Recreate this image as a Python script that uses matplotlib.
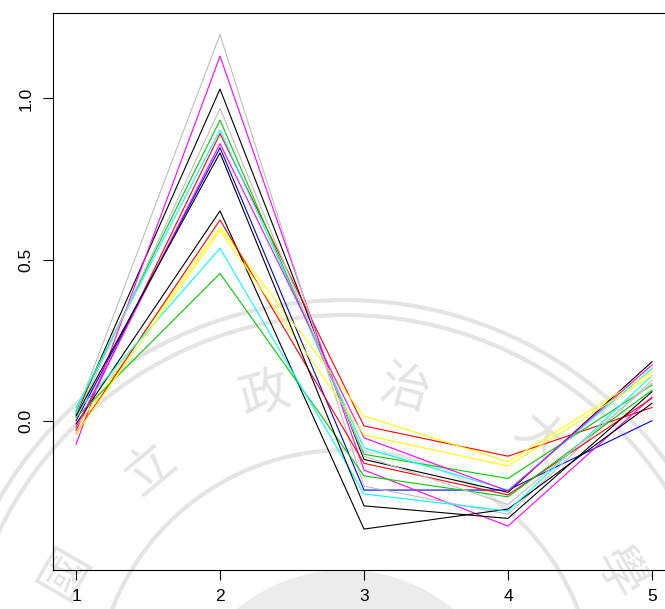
import matplotlib
matplotlib.use("Agg")
import matplotlib.pyplot as plt
from matplotlib.patches import Circle

plt.rcParams['font.family'] = ['Liberation Sans', 'Noto Sans CJK TC', 'DejaVu Sans']

# x positions (matplot index)
x = [1, 2, 3, 4, 5]

# one series per line
black1 = [0.020, 1.029, -0.120, -0.222, 0.183]
red1 = [-0.030, 0.891, -0.016, -0.110, 0.041]
green1 = [0.030, 0.933, -0.104, -0.179, 0.111]
blue1 = [0.000, 0.847, -0.215, -0.215, 0.000]
cyan1 = [0.040, 0.902, -0.084, -0.215, 0.162]
magenta1 = [-0.073, 1.131, -0.153, -0.327, 0.074]
yellow1 = [-0.020, 0.600, 0.015, -0.127, 0.152]
gray1 = [0.020, 1.198, -0.203, -0.290, 0.126]
black2 = [-0.010, 0.651, -0.336, -0.274, 0.054]
red2 = [-0.040, 0.623, -0.132, -0.230, 0.070]
green2 = [0.010, 0.457, -0.171, -0.236, 0.095]
cyan2 = [0.025, 0.535, -0.227, -0.280, 0.140]
magenta2 = [-0.020, 0.860, -0.053, -0.218, 0.173]
yellow2 = [-0.040, 0.590, -0.044, -0.140, 0.140]
gray2 = [0.010, 0.969, -0.110, -0.260, 0.117]
black3 = [0.015, 0.831, -0.264, -0.303, 0.090]

series = [black1, red1, green1, blue1, cyan1, magenta1, yellow1, gray1,
          black2, red2, green2, cyan2, magenta2, yellow2, gray2, black3]
colors = ['black', 'red', '#00CD00', 'blue', 'cyan', 'magenta', 'yellow', '#BEBEBE',
          'black', 'red', '#00CD00', 'cyan', 'magenta', 'yellow', '#BEBEBE', 'black']

W, H = 665, 609
fig = plt.figure(figsize=(W / 100, H / 100), dpi=100)

# faint seal watermark behind the chart
bg = fig.add_axes([0, 0, 1, 1], zorder=0)
bg.set_xlim(0, W)
bg.set_ylim(H, 0)
bg.axis('off')
wm = '#e4e4e4'
cx, cy = 345, 700
for r, lw in [(400, 3), (385, 3), (250, 3)]:
    bg.add_patch(Circle((cx, cy), r, fill=False, ec=wm, lw=lw))
bg.add_patch(Circle((cx, cy + 40), 170, fc='#ececec', ec='none'))
for ch, px, py, rot in [('國', 66, 572, 60), ('立', 150, 470, 40), ('政', 265, 395, 15),
                        ('治', 405, 390, -15), ('大', 540, 440, -40), ('學', 618, 574, -60)]:
    bg.text(px, py, ch, fontsize=36, color=wm, ha='center', va='center', rotation=rot,
            family=['Noto Sans CJK TC'])

ax = fig.add_axes([53 / W, 39 / H, 622 / W, 557 / H], zorder=1)
ax.patch.set_alpha(0)
for ys, c in zip(series, colors):
    ax.plot(x, ys, color=c, lw=0.8)

ax.set_xlim(0.84, 5.16)
ax.set_ylim(-0.463, 1.265)
ax.set_xticks([1, 2, 3, 4, 5])
ax.set_yticks([0.0, 0.5, 1.0])
ax.set_yticklabels(['0.0', '0.5', '1.0'], rotation=90, va='center')
ax.tick_params(length=7, width=0.8, labelsize=12.5, pad=7)
for s in ax.spines.values():
    s.set_linewidth(0.8)

fig.savefig('out.png', dpi=100)
